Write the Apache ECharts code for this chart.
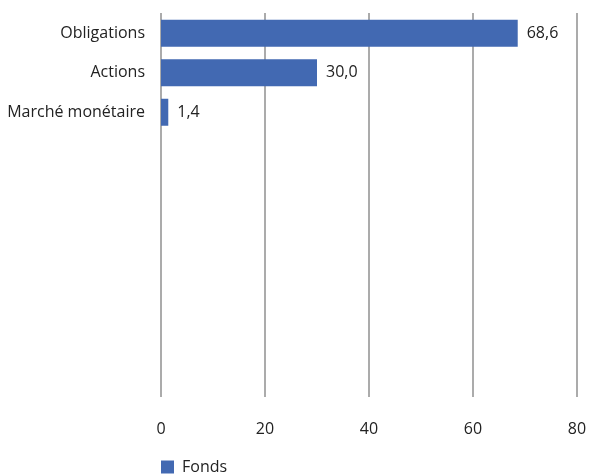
<!DOCTYPE html>
<html>
<head>
<meta charset="utf-8">
<script src="https://cdn.jsdelivr.net/npm/echarts@6/dist/echarts.min.js"></script>
<style>
  html, body { margin: 0; padding: 0; background: #fff; }
  #chart { width: 590px; height: 474px; }
</style>
</head>
<body>
<div id="chart"></div>
<script>
// Categories, top to bottom; the trailing blank slots leave the lower plot empty
const categories = ['Obligations', 'Actions', 'Marché monétaire', '', '', '', '', '', '', ''];
const fondsValues = [68.6, 30.0, 1.4];
const xTicks = [0, 20, 40, 60, 80];
const seriesName = 'Fonds';

const FONT = '"Open Sans", "Noto Sans", sans-serif';
const BAR = '#4269B2';
const fmt = v => v.toFixed(1).replace('.', ',');

const chart = echarts.init(document.getElementById('chart'), null, { renderer: 'canvas' });
chart.setOption({
  animation: false,
  textStyle: { fontFamily: FONT },
  grid: [
    // bars
    { left: 161, right: 13, top: 13.5, height: 395 },
    // gridlines and value labels
    { left: 161, right: 13, top: 13, height: 384 }
  ],
  xAxis: [
    { gridIndex: 0, type: 'value', min: xTicks[0], max: xTicks[xTicks.length - 1], interval: 20,
      show: false },
    { gridIndex: 1, type: 'value', min: xTicks[0], max: xTicks[xTicks.length - 1], interval: 20,
      axisLine: { show: false }, axisTick: { show: false },
      splitLine: { show: true, lineStyle: { color: '#ababab', width: 2 } },
      axisLabel: { color: '#222', fontSize: 16, fontFamily: FONT, margin: 24,
        formatter: v => String(v) } }
  ],
  yAxis: [
    { gridIndex: 0, type: 'category', data: categories, inverse: true,
      axisLine: { show: false }, axisTick: { show: false },
      axisLabel: { color: '#222', fontSize: 16, fontFamily: FONT, margin: 16 } },
    { gridIndex: 1, type: 'category', data: [], show: false }
  ],
  legend: {
    data: [seriesName], left: 161, top: 459, padding: 0,
    itemWidth: 13, itemHeight: 13, itemGap: 8, icon: 'rect',
    textStyle: { color: '#222', fontSize: 16, fontFamily: FONT, padding: [0, 0, 0, 3] }
  },
  series: [{
    name: seriesName, type: 'bar', xAxisIndex: 0, yAxisIndex: 0,
    data: fondsValues, barWidth: 27,
    itemStyle: { color: BAR },
    label: { show: true, position: 'right', distance: 9, color: '#222', fontSize: 16,
      fontFamily: FONT, formatter: p => fmt(p.value) }
  }]
});
</script>
</body>
</html>
